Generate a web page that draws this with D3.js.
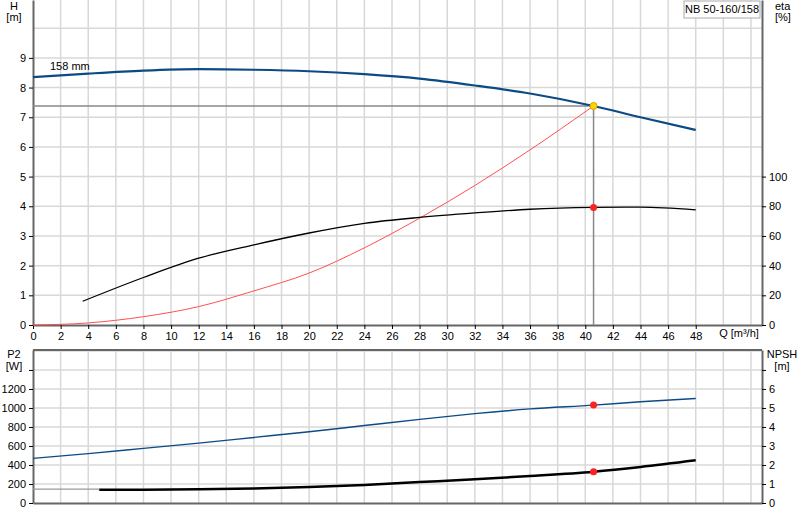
<!DOCTYPE html><html><head><meta charset="utf-8"><script src="https://cdn.jsdelivr.net/npm/d3@7"></script>
<style>body{margin:0;background:#fff}text{font-family:Arial,"Liberation Sans",sans-serif;font-size:11px;fill:#000}</style></head><body><svg id="c" width="800" height="520"></svg><script>
const headQ=[0,4,8,12,16,20,24,28,32,36,40.6,44,48];
const headH=[8.35,8.47,8.57,8.62,8.6,8.55,8.45,8.3,8.07,7.8,7.38,7.0,6.57];
const etaQ=[3.6,8,12,16,20,24,28,32,36,40.6,44,48];
const etaV=[16,32,45,54,62,68.5,72.5,75.5,78,79.2,79.4,77.6];
const sysQ=[0,4,8,12,16,20,24,28,32,36,40.6];
const sysH=[0,0.07,0.28,0.62,1.15,1.75,2.6,3.6,4.7,5.9,7.38];
const p2Q=[0,4,8,12,16,20,24,28,32,36,40.6,44,48];
const p2V=[470,520,575,630,690,750,815,880,940,990,1030,1065,1100];
const npshQ=[4.8,8,12,16,20,24,28,32,36,40.6,44,48];
const npshV=[0.7,0.7,0.72,0.76,0.84,0.95,1.1,1.25,1.42,1.65,1.9,2.25];
const npshLowQ=[0,4.8];const npshLowV=[0.73,0.73];
const opQ=40.6, opH=7.38, opEta=79.2, opP2=1030, opNpsh=1.65;
const qTicks=d3.range(0,50,2);
const svg=d3.select("#c");
const L=33,R=762;
const x=d3.scaleLinear().domain([0,52.8]).range([L,R]);
const yH=d3.scaleLinear().domain([0,10.95]).range([325,0]);
const yE=d3.scaleLinear().domain([0,219]).range([325,0]);
const yP=d3.scaleLinear().domain([0,1610]).range([503,350]);
const yN=d3.scaleLinear().domain([0,8.05]).range([503,350]);
const grid="#d8d8d8";
const gx=d3.range(2,53,2);
[[325,0],[503,350]].forEach(([b,t])=>{
 svg.append("g").selectAll("line").data(gx).join("line").attr("x1",d=>x(d)).attr("x2",d=>x(d)).attr("y1",b).attr("y2",t).attr("stroke",grid).attr("stroke-width",1.5);
});
svg.append("g").selectAll("line").data(d3.range(1,11)).join("line").attr("x1",L).attr("x2",R).attr("y1",d=>yH(d)).attr("y2",d=>yH(d)).attr("stroke",grid).attr("stroke-width",1.5);
svg.append("g").selectAll("line").data(d3.range(200,1601,200)).join("line").attr("x1",L).attr("x2",R).attr("y1",d=>yP(d)).attr("y2",d=>yP(d)).attr("stroke",grid).attr("stroke-width",1.5);
const ax=(g,a)=>{g.call(a);g.select(".domain").attr("stroke","#666").attr("stroke-width",2);g.selectAll("text").style("font-size","11px");};
svg.append("g").attr("transform","translate(0,325)").call(g=>ax(g,d3.axisBottom(x).tickValues(qTicks).tickSize(4).tickSizeOuter(0)));
svg.append("g").attr("transform",`translate(${L},0)`).call(g=>ax(g,d3.axisLeft(yH).tickValues(d3.range(0,10)).tickSize(4).tickSizeOuter(0)));
svg.append("g").attr("transform",`translate(${R},0)`).call(g=>ax(g,d3.axisRight(yE).tickValues(d3.range(0,101,20)).tickSize(4).tickSizeOuter(0)));
svg.append("g").attr("transform","translate(0,503)").call(g=>ax(g,d3.axisBottom(x).tickValues([]).tickSizeOuter(0)));
svg.append("g").attr("transform",`translate(${L},0)`).call(g=>ax(g,d3.axisLeft(yP).tickValues(d3.range(0,1401,200)).tickFormat(d=>d==1400?"":d).tickSize(4).tickSizeOuter(0)));
svg.append("g").attr("transform",`translate(${R},0)`).call(g=>ax(g,d3.axisRight(yN).tickValues(d3.range(0,8)).tickFormat(d=>d==7?"":d).tickSize(4).tickSizeOuter(0)));
svg.append("line").attr("x1",L).attr("x2",R).attr("y1",350).attr("y2",350).attr("stroke","#666").attr("stroke-width",2);
svg.selectAll(".tick line").attr("stroke","#000");
svg.selectAll(".tick text").attr("fill","#000");
const t=(s,xx,yy,a="middle")=>svg.append("text").attr("x",xx).attr("y",yy).attr("text-anchor",a).text(s);
t("H",14,10);t("[m]",14,21);t("eta",775,10,"start");t("[%]",775,21,"start");
t("P2",14,358);t("[W]",14,370);t("NPSH",782,358);t("[m]",782,370);
t("Q [m³/h]",739,337);t("158 mm",50,70,"start");
svg.append("rect").attr("x",684).attr("y",1).attr("width",76).attr("height",17).attr("fill","#fff").attr("stroke","#aaa");
t("NB 50-160/158",722,13);
svg.append("line").attr("x1",L).attr("x2",x(opQ)).attr("y1",yH(opH)).attr("y2",yH(opH)).attr("stroke","#888").attr("stroke-width",1.5);
svg.append("line").attr("x1",x(opQ)).attr("x2",x(opQ)).attr("y1",yH(opH)).attr("y2",325).attr("stroke","#888").attr("stroke-width",1.5);
const line=(Q,V,ys,c,w)=>svg.append("path").attr("d",d3.line().curve(d3.curveMonotoneX).x((d,i)=>x(Q[i])).y(d=>ys(d))(V)).attr("fill","none").attr("stroke",c).attr("stroke-width",w);
line(sysQ,sysH,yH,"#ff5050",1);
line(headQ,headH,yH,"#0c4a86",2.2);
line(etaQ,etaV,yE,"#000",1.3);
line(p2Q,p2V,yP,"#0c4a86",1.4);
line(npshLowQ,npshLowV,yN,"#999",1.2);
line(npshQ,npshV,yN,"#000",2.5);
const dot=(q,v,ys,c)=>svg.append("circle").attr("cx",x(q)).attr("cy",ys(v)).attr("r",3.5).attr("fill",c).attr("stroke",c=="#ffd500"?"#d9a000":"none");
dot(opQ,opH,yH,"#ffd500");dot(opQ,opEta,yE,"#ff2020");dot(opQ,opP2,yP,"#ff2020");dot(opQ,opNpsh,yN,"#ff2020");
</script></body></html>
